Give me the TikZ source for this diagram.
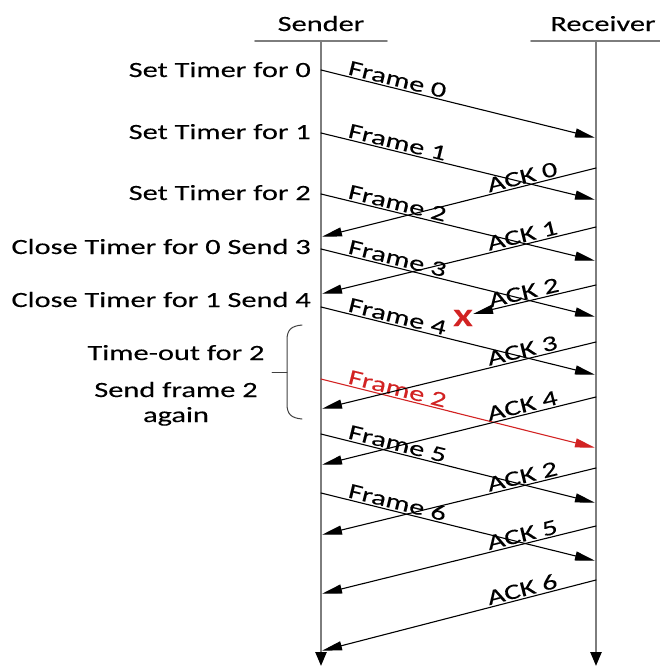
\documentclass[tikz,border=0pt]{standalone}
\usepackage{fontspec}
\setmainfont{Carlito}[FakeStretch=1.4,FakeBold=0.2]
\usepackage{tikz}
\usetikzlibrary{arrows.meta}
\definecolor{linegray}{RGB}{125,125,125}
\definecolor{resend}{RGB}{210,35,35}
\tikzset{>={Triangle[length=20pt,width=9pt]},
  lifeline/.style={line width=2.4pt,color=linegray,
    -{Triangle[length=14pt,width=11pt,color=black]}},
  header/.style={line width=1.8pt,color=linegray},
  msg/.style={->,line width=1.1pt,shorten >=1pt},
  tag/.style={sloped,above,inner sep=1.5pt},
  note/.style={anchor=base east,inner sep=0pt},
  side/.style={anchor=base,inner sep=0pt}}

\begin{document}
\begin{tikzpicture}[x=1pt,y=-1pt,line cap=round,
  font=\fontsize{21.7}{25}\selectfont]

  \useasboundingbox (0,0) rectangle (659,667);

  % heads
  \node [side] (sender) at (321,31) {Sender};
  \node [side] (receiver) at (603,31) {Receiver};
  \coordinate (sl) at (255,41);
  \coordinate (sr) at (387,41);
  \coordinate (rl) at (531,41);
  \coordinate (rr) at (663,41);
  \draw [header] (sl) -- (sr);
  \draw [header] (rl) -- (rr);

  \coordinate (stop) at (321,41);
  \coordinate (sbot) at (321,666);
  \coordinate (rtop) at (596,41);
  \coordinate (rbot) at (596,666);
  \draw [lifeline] (stop) -- (sbot);
  \draw [lifeline] (rtop) -- (rbot);

  % frames
  \coordinate (sf0) at (321,70);  \coordinate (rf0) at (596,138);
  \coordinate (sf1) at (321,133); \coordinate (rf1) at (596,200);
  \coordinate (sf2) at (321,194); \coordinate (rf2) at (596,261);
  \coordinate (sf3) at (321,249); \coordinate (rf3) at (596,317);
  \coordinate (sf4) at (321,307); \coordinate (rf4) at (596,375);
  \coordinate (sfr) at (321,379); \coordinate (rfr) at (596,448);
  \coordinate (sf5) at (321,434); \coordinate (rf5) at (596,503);
  \coordinate (sf6) at (321,493); \coordinate (rf6) at (596,561);

  \draw [msg] (sf0) -- node [tag,pos=0.27] {Frame 0} (rf0);
  \draw [msg] (sf1) -- node [tag,pos=0.27] {Frame 1} (rf1);
  \draw [msg] (sf2) -- node [tag,pos=0.27] {Frame 2} (rf2);
  \draw [msg] (sf3) -- node [tag,pos=0.27] {Frame 3} (rf3);
  \draw [msg] (sf4) -- node [tag,pos=0.27] {Frame 4} (rf4);
  \draw [msg,resend] (sfr) -- node [tag,pos=0.27] {Frame 2} (rfr);
  \draw [msg] (sf5) -- node [tag,pos=0.27] {Frame 5} (rf5);
  \draw [msg] (sf6) -- node [tag,pos=0.27] {Frame 6} (rf6);

  % acks
  \coordinate (ra0) at (596,168); \coordinate (sa0) at (321,237);
  \coordinate (ra1) at (596,227); \coordinate (sa1) at (321,294);
  \coordinate (ral) at (596,285); \coordinate (sal) at (473,314);
  \coordinate (ra3) at (596,342); \coordinate (sa3) at (321,409);
  \coordinate (ra4) at (596,397); \coordinate (sa4) at (321,465);
  \coordinate (ra2) at (596,468); \coordinate (sa2) at (321,535);
  \coordinate (ra5) at (596,526); \coordinate (sa5) at (321,594);
  \coordinate (ra6) at (596,580); \coordinate (sa6) at (321,651);

  \draw [msg] (ra0) -- node [tag,pos=0.26] {ACK 0} (sa0);
  \draw [msg] (ra1) -- node [tag,pos=0.26] {ACK 1} (sa1);
  \draw [msg,shorten >=0pt] (ral) -- node [tag,pos=0.57] {ACK 2} (sal);
  \draw [msg] (ra3) -- node [tag,pos=0.26] {ACK 3} (sa3);
  \draw [msg] (ra4) -- node [tag,pos=0.26] {ACK 4} (sa4);
  \draw [msg] (ra2) -- node [tag,pos=0.26] {ACK 2} (sa2);
  \draw [msg] (ra5) -- node [tag,pos=0.26] {ACK 5} (sa5);
  \draw [msg] (ra6) -- node [tag,pos=0.26] {ACK 6} (sa6);

  \node [text=resend,font=\fontsize{25}{25}\bfseries] (lost) at (463,318) {X};

  % sender notes
  \node [note] (set0) at (311,77) {Set Timer for 0};
  \node [note] (set1) at (311,139) {Set Timer for 1};
  \node [note] (set2) at (311,200) {Set Timer for 2};
  \node [note] (close0) at (311,254) {Close Timer for 0 Send 3};
  \node [note] (close1) at (311,307) {Close Timer for 1 Send 4};

  \node [side] (timeout) at (176,360) {Time-out for 2};
  \node [side] (again1) at (176,397) {Send frame 2};
  \node [side] (again2) at (176,422) {again};

  \draw [line width=1pt,color=darkgray] (302,325) .. controls (291,326) and (287,330) .. (287,340)
    -- (287,404) .. controls (287,414) and (291,418) .. (302,419);
  \draw [line width=1pt,color=darkgray] (272,372) -- (287,372);

\end{tikzpicture}
\end{document}
